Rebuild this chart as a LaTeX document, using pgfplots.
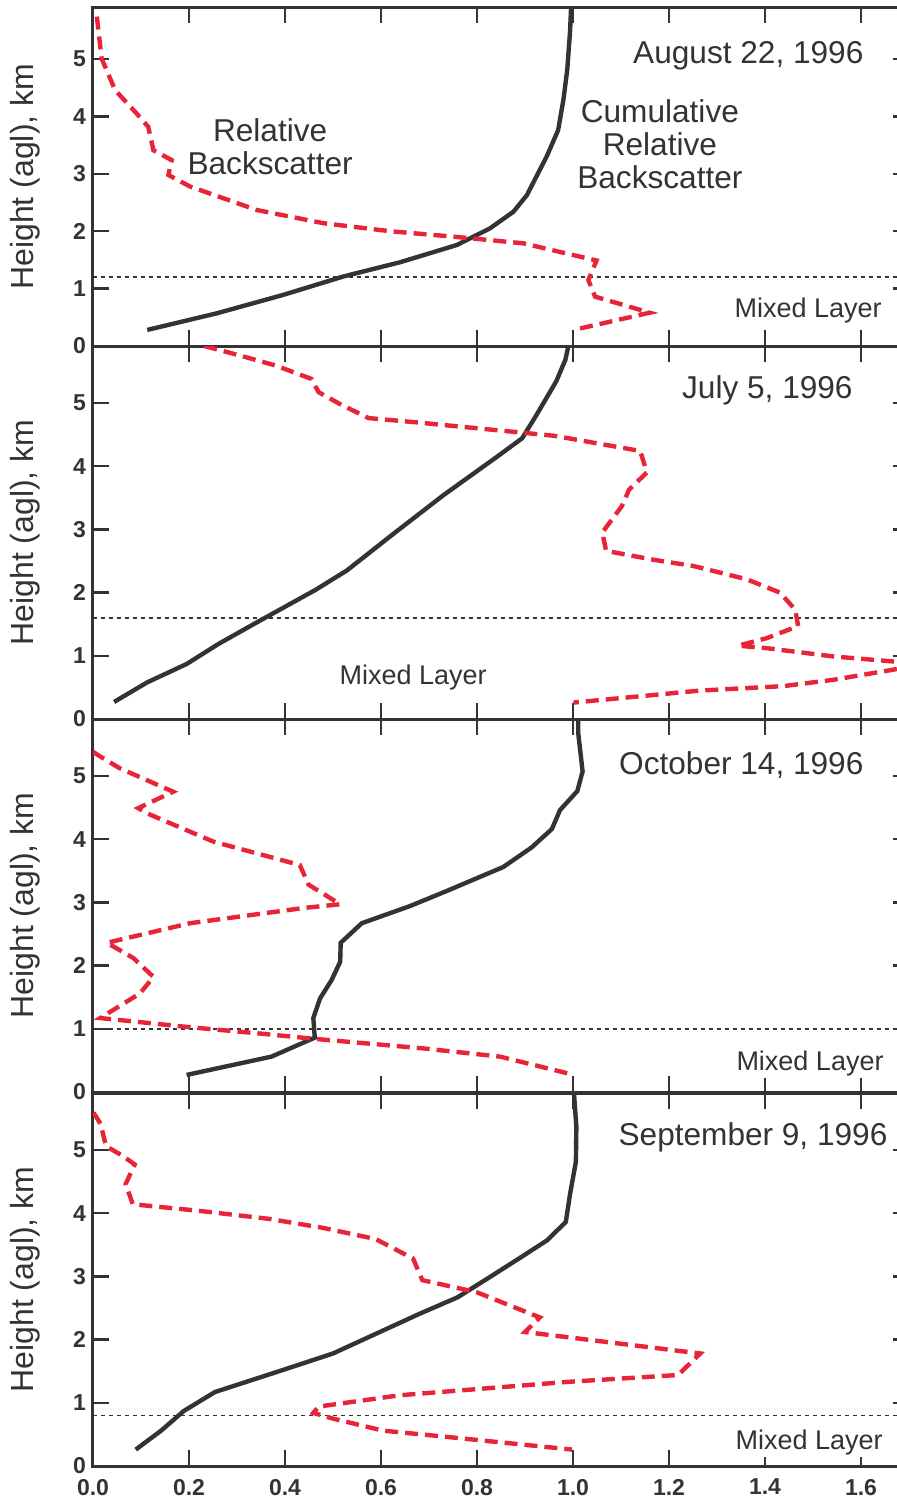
\documentclass[border=0pt]{standalone}
\usepackage{fontspec}
\setmainfont{Liberation Sans}
\usepackage{pgfplots}
\pgfplotsset{compat=1.18}

\definecolor{dark}{RGB}{51,51,51}
\definecolor{bsred}{RGB}{232,36,56}

\pgfplotsset{
  panel/.style={
    scale only axis, width=408pt, anchor=south west,
    xmin=0, xmax=1.7, ymin=0, ymax=5.9,
    xtick={0,0.2,0.4,0.6,0.8,1.0,1.2,1.4,1.6}, ytick={0,1,2,3,4,5},
    tick align=inside, major tick length=8pt,
    axis line style={draw=dark, line width=1.5pt},
    every tick/.style={draw=dark, line width=1.2pt},
    tick label style={font=\fontsize{11.5}{12}\selectfont\bfseries, text=dark},
    /pgf/number format/assume math mode=true,
    xticklabel style={/pgf/number format/fixed, /pgf/number format/fixed zerofill,
      /pgf/number format/precision=1},
    ylabel={Height (agl), km},
    every axis y label/.style={at={(axis description cs:-0.0833,0.5)}, rotate=90,
      anchor=center, font=\fontsize{16}{18}\selectfont, text=dark},
    clip=true,
  },
  cum/.style={draw=dark, line width=2.2pt, no marks},
  rel/.style={draw=bsred, line width=2.2pt, dash pattern=on 6.5pt off 3.5pt, no marks},
  ml/.style={draw=dark, line width=0.8pt, dash pattern=on 2pt off 2pt, no marks},
}
\tikzset{
  big/.style={font=\fontsize{15.8}{16.5}\selectfont, text=dark, fill=white, inner sep=1pt},
  small/.style={font=\fontsize{13.5}{15}\selectfont, text=dark, fill=white, inner sep=1pt},
}

\begin{document}
\begin{tikzpicture}

% August 22, 1996
\begin{axis}[panel, height=169.3pt, at={(46.5pt,-173pt)}, xticklabels={}]
\addplot[ml] coordinates {(0,1.2) (1.7,1.2)};
\addplot[cum] coordinates {
(0.113,0.28) (0.258,0.57) (0.396,0.89) (0.521,1.21) (0.640,1.46) (0.758,1.76)
(0.827,2.05) (0.876,2.34) (0.904,2.63) (0.945,3.30) (0.969,3.76) (0.980,4.29)
(0.988,4.81) (0.994,5.50) (0.996,5.90)};
\addplot[rel] coordinates {
(0.008,5.74) (0.018,5.01) (0.046,4.46) (0.091,4.05) (0.115,3.82) (0.126,3.41)
(0.164,3.24) (0.157,2.98) (0.202,2.78) (0.341,2.37) (0.480,2.14) (0.619,2.00)
(0.758,1.90) (0.896,1.79) (1.049,1.49) (1.032,1.15) (1.046,0.86) (1.160,0.58)
(1.001,0.28)};
\node[big, anchor=east] at (axis cs:1.61,5.05) {August 22, 1996};
\node[big, align=center] at (axis cs:0.369,3.48) {Relative\\Backscatter};
\node[big, align=center] at (axis cs:1.181,3.52) {Cumulative\\Relative\\Backscatter};
\node[small, anchor=east] at (axis cs:1.648,0.61) {Mixed Layer};
\end{axis}

% July 5, 1996
\begin{axis}[panel, height=186.5pt, at={(46.5pt,-359.5pt)}, xticklabels={}]
\addplot[ml] coordinates {(0,1.6) (1.7,1.6)};
\addplot[cum] coordinates {
(0.044,0.27) (0.113,0.58) (0.195,0.87) (0.262,1.19) (0.344,1.54) (0.463,2.04)
(0.529,2.35) (0.626,2.93) (0.730,3.54) (0.842,4.15) (0.894,4.44) (0.924,4.81)
(0.965,5.34) (0.984,5.68) (0.991,5.92)};
\addplot[rel] coordinates {
(0.232,5.90) (0.306,5.75) (0.381,5.59) (0.455,5.38) (0.470,5.17) (0.515,4.98)
(0.574,4.76) (0.663,4.70) (0.812,4.59) (0.961,4.48) (1.140,4.24) (1.154,3.90)
(1.117,3.63) (1.102,3.37) (1.061,2.95) (1.069,2.66) (1.167,2.52) (1.251,2.42)
(1.362,2.21) (1.431,2.00) (1.463,1.73) (1.469,1.47) (1.404,1.28) (1.344,1.16)
(1.404,1.12) (1.542,0.99) (1.667,0.91) (1.72,0.86) (1.667,0.78) (1.542,0.62)
(1.438,0.52) (1.265,0.45) (1.126,0.35) (1.001,0.26)};
\node[big, anchor=east] at (axis cs:1.5875,5.2) {July 5, 1996};
\node[small] at (axis cs:0.667,0.66) {Mixed Layer};
\end{axis}

% October 14, 1996
\begin{axis}[panel, height=186.5pt, at={(46.5pt,-546pt)}, xticklabels={}]
\addplot[ml] coordinates {(0,1.0) (1.7,1.0)};
\addplot[cum] coordinates {
(0.195,0.27) (0.372,0.56) (0.462,0.86) (0.459,1.17) (0.473,1.48) (0.497,1.77)
(0.515,2.06) (0.516,2.36) (0.560,2.67) (0.660,2.94) (0.737,3.18) (0.855,3.56)
(0.914,3.87) (0.956,4.16) (0.973,4.46) (1.009,4.76) (1.020,5.07) (1.011,5.67)
(1.011,5.90)};
\addplot[rel] coordinates {
(0.000,5.38) (0.021,5.28) (0.056,5.12) (0.167,4.75) (0.094,4.49) (0.112,4.41)
(0.251,3.96) (0.431,3.59) (0.449,3.28) (0.515,2.97) (0.438,2.91) (0.202,2.67)
(0.029,2.36) (0.084,2.12) (0.126,1.82) (0.098,1.56) (0.015,1.17) (0.195,1.03)
(0.341,0.93) (0.463,0.84) (0.688,0.69) (0.848,0.56) (0.997,0.28)};
\node[big, anchor=east] at (axis cs:1.61,5.17) {October 14, 1996};
\node[small, anchor=east] at (axis cs:1.652,0.45) {Mixed Layer};
\end{axis}

% September 9, 1996
\begin{axis}[panel, height=186.5pt, at={(46.5pt,-733pt)}, x tick label style={yshift=-3pt}]
\addplot[ml] coordinates {(0,0.8) (1.7,0.8)};
\addplot[cum] coordinates {
(0.089,0.26) (0.142,0.56) (0.189,0.87) (0.254,1.17) (0.396,1.52) (0.500,1.78)
(0.589,2.09) (0.678,2.40) (0.760,2.67) (0.827,2.99) (0.887,3.28) (0.946,3.57)
(0.985,3.86) (0.994,4.31) (1.006,4.81) (1.007,5.36) (1.002,5.90)};
\addplot[rel] coordinates {
(0.001,5.59) (0.016,5.41) (0.027,5.06) (0.061,4.91) (0.087,4.77) (0.068,4.46)
(0.083,4.14) (0.217,4.04) (0.366,3.91) (0.477,3.77) (0.589,3.59) (0.667,3.28)
(0.686,2.94) (0.799,2.75) (0.931,2.35) (0.900,2.12) (1.265,1.78) (1.219,1.44)
(0.987,1.33) (0.640,1.12) (0.470,0.94) (0.459,0.84) (0.500,0.75) (0.604,0.56)
(0.738,0.46) (0.998,0.26)};
\node[big, anchor=east] at (axis cs:1.66,5.2) {September 9, 1996};
\node[small, anchor=east] at (axis cs:1.65,0.37) {Mixed Layer};
\end{axis}

\pgfresetboundingbox
\useasboundingbox (0,0) rectangle (448.5pt,-750pt);
\end{tikzpicture}
\end{document}
